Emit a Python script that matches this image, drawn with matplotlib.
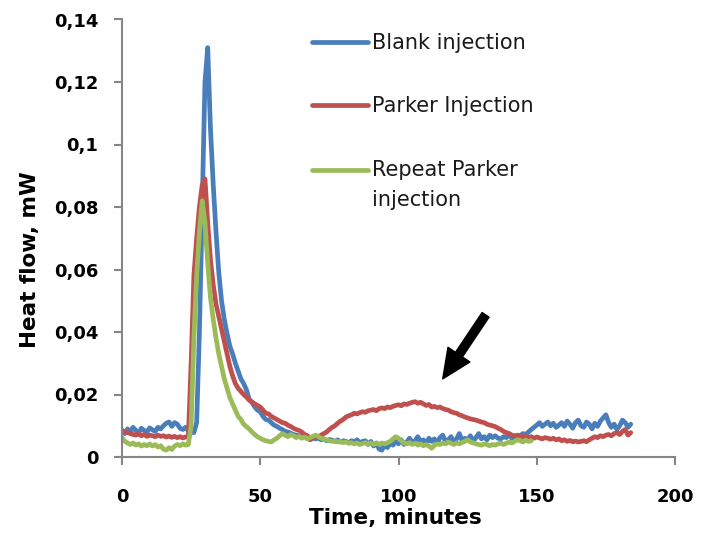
import numpy as np
import matplotlib
matplotlib.use("Agg")
import matplotlib.pyplot as plt
from matplotlib.legend_handler import HandlerLine2D

# ---------------- data (time in minutes, heat flow in mW) ----------------
time_blank = np.arange(0, 185)
blank = [
    .0085, .0075, .0090, .0080, .0095, .0085, .0078, .0092, .0085, .0080,
    .0093, .0087, .0082, .0095, .0090, .0100, .0108, .0112, .0098, .0110,
    .0105, .0092, .0088, .0095, .0083, .0080, .0078, .0110, .0400, .0800,
    .1200, .1310, .1050, .0870, .0720, .0590, .0500, .0440, .0395, .0355,
    .0330, .0300, .0275, .0250, .0235, .0215, .0185, .0175, .0160, .0150,
    .0145, .0130, .0120, .0118, .0110, .0102, .0098, .0092, .0088, .0082,
    .0080, .0076, .0072, .0070, .0068, .0066, .0064, .0068, .0060, .0062,
    .0058, .0060, .0055, .0058, .0052, .0056, .0054, .0050, .0055, .0048,
    .0052, .0050, .0046, .0052, .0048, .0055, .0045, .0050, .0052, .0040,
    .0050, .0035, .0045, .0025, .0022, .0040, .0030, .0045, .0038, .0050,
    .0042, .0055, .0040, .0048, .0060, .0045, .0052, .0065, .0048, .0055,
    .0042, .0060, .0050, .0058, .0045, .0062, .0070, .0050, .0055, .0065,
    .0048, .0058, .0075, .0052, .0060, .0055, .0068, .0050, .0062, .0075,
    .0058, .0065, .0055, .0070, .0062, .0068, .0060, .0058, .0065, .0062,
    .0072, .0060, .0065, .0070, .0068, .0075, .0072, .0080, .0088, .0095,
    .0102, .0110, .0098, .0105, .0112, .0100, .0108, .0095, .0102, .0110,
    .0098, .0115, .0105, .0092, .0110, .0118, .0100, .0095, .0112, .0105,
    .0090, .0108, .0098, .0115, .0125, .0135, .0110, .0095, .0105, .0088,
    .0100, .0118, .0110, .0095, .0105,
]

time_parker = np.arange(0, 185)
parker = [
    .0085, .0080, .0078, .0075, .0072, .0070, .0074, .0068, .0072, .0066,
    .0070, .0068, .0065, .0070, .0066, .0068, .0064, .0067, .0063, .0066,
    .0062, .0065, .0061, .0064, .0065, .0300, .0580, .0700, .0800, .0870,
    .0890, .0750, .0630, .0550, .0490, .0450, .0410, .0370, .0330, .0290,
    .0260, .0235, .0220, .0210, .0200, .0192, .0182, .0176, .0170, .0165,
    .0160, .0150, .0140, .0138, .0130, .0125, .0120, .0115, .0110, .0108,
    .0102, .0098, .0092, .0088, .0085, .0080, .0072, .0068, .0055, .0060,
    .0065, .0062, .0070, .0075, .0080, .0088, .0095, .0100, .0108, .0115,
    .0120, .0128, .0132, .0135, .0140, .0138, .0142, .0145, .0143, .0148,
    .0150, .0152, .0148, .0155, .0157, .0155, .0160, .0158, .0162, .0165,
    .0167, .0164, .0170, .0168, .0172, .0175, .0177, .0172, .0175, .0170,
    .0165, .0168, .0160, .0162, .0158, .0160, .0155, .0152, .0150, .0145,
    .0142, .0140, .0135, .0132, .0128, .0125, .0122, .0120, .0118, .0115,
    .0112, .0110, .0105, .0102, .0100, .0097, .0092, .0088, .0082, .0078,
    .0075, .0070, .0068, .0065, .0068, .0063, .0066, .0062, .0065, .0060,
    .0064, .0061, .0058, .0062, .0060, .0057, .0060, .0055, .0058, .0052,
    .0055, .0050, .0053, .0049, .0051, .0048, .0050, .0052, .0049, .0055,
    .0060, .0065, .0062, .0068, .0065, .0070, .0072, .0068, .0075, .0078,
    .0072, .0082, .0088, .0070, .0078,
]

time_repeat = np.arange(0, 149)
repeat = [
    .0062, .0050, .0045, .0040, .0045, .0038, .0042, .0035, .0040, .0036,
    .0042, .0035, .0040, .0032, .0036, .0025, .0022, .0030, .0024, .0035,
    .0040, .0036, .0042, .0038, .0040, .0100, .0380, .0580, .0720, .0820,
    .0750, .0620, .0510, .0440, .0380, .0330, .0290, .0250, .0220, .0190,
    .0170, .0150, .0130, .0120, .0105, .0097, .0090, .0080, .0072, .0065,
    .0060, .0055, .0052, .0050, .0048, .0055, .0060, .0068, .0075, .0070,
    .0065, .0072, .0068, .0062, .0066, .0060, .0064, .0058, .0062, .0066,
    .0070, .0065, .0060, .0058, .0055, .0052, .0050, .0052, .0048, .0050,
    .0046, .0048, .0044, .0046, .0042, .0045, .0040, .0043, .0046, .0042,
    .0045, .0040, .0044, .0041, .0045, .0042, .0046, .0050, .0058, .0065,
    .0060, .0052, .0045, .0042, .0046, .0040, .0044, .0038, .0042, .0036,
    .0040, .0035, .0028, .0038, .0042, .0040, .0045, .0042, .0048, .0044,
    .0040, .0045, .0042, .0046, .0050, .0055, .0048, .0045, .0042, .0040,
    .0038, .0042, .0040, .0036, .0040, .0038, .0042, .0045, .0040, .0044,
    .0048, .0045, .0050, .0055, .0052, .0048, .0054, .0050, .0052,
]

series_labels = ["Blank injection", "Parker Injection", "Repeat Parker\ninjection"]
series_colors = ["#4A7EBB", "#C0504D", "#9BBB59"]

x_ticks = [0, 50, 100, 150, 200]
x_tick_labels = ["0", "50", "100", "150", "200"]
y_ticks = [0, 0.02, 0.04, 0.06, 0.08, 0.10, 0.12, 0.14]
y_tick_labels = ["0", "0,02", "0,04", "0,06", "0,08", "0,1", "0,12", "0,14"]

arrow_tip = (116.0, 0.0250)
arrow_tail = (131.5, 0.0455)

# ---------------- figure ----------------
W, H = 707, 537
fig = plt.figure(figsize=(W / 100, H / 100), dpi=100)
ax = fig.add_axes([122 / W, 1 - 457 / H, (675 - 122) / W, (457 - 19.5) / H])

lines = []
for t, v, lab, col in zip([time_blank, time_parker, time_repeat],
                          [blank, parker, repeat], series_labels, series_colors):
    ln, = ax.plot(t, v, color=col, lw=3.4, label=lab, solid_joinstyle="round",
                  solid_capstyle="round")
    lines.append(ln)

ax.set_xlim(0, 200)
ax.set_ylim(0, 0.14)
ax.set_xticks(x_ticks)
ax.set_xticklabels(x_tick_labels)
ax.set_yticks(y_ticks)
ax.set_yticklabels(y_tick_labels)

spine_col = "#868686"
for s in ["top", "right"]:
    ax.spines[s].set_visible(False)
for s in ["left", "bottom"]:
    ax.spines[s].set_color(spine_col)
    ax.spines[s].set_linewidth(1.5)
ax.tick_params(axis="both", direction="out", length=6, width=1.5, color=spine_col,
               labelsize=13, labelcolor="black")
ax.tick_params(axis="y", pad=11)
ax.tick_params(axis="x", pad=16)
for lab in ax.get_xticklabels() + ax.get_yticklabels():
    lab.set_fontweight("bold")

ax.set_xlabel("Time, minutes", fontsize=15.5, fontweight="bold")
ax.set_ylabel("Heat flow, mW", fontsize=15.5, fontweight="bold")
ax.xaxis.set_label_coords(0.495, -0.1155)
ax.yaxis.set_label_coords(-0.148, 0.45)


class UpHandler(HandlerLine2D):
    def __init__(self, shift, **kw):
        super().__init__(**kw)
        self.shift = shift

    def create_artists(self, legend, orig_handle, xdescent, ydescent, width,
                       height, fontsize, trans):
        arts = super().create_artists(legend, orig_handle, xdescent, ydescent,
                                      width, height, fontsize, trans)
        for a in arts:
            a.set_ydata(np.asarray(a.get_ydata()) + self.shift)
        return arts


leg = ax.legend(handles=lines, loc="upper left",
                bbox_to_anchor=(312 / W, 1 - 33 / H), bbox_transform=fig.transFigure,
                frameon=False, fontsize=15, handlelength=2.7, handletextpad=0.2,
                labelspacing=2.08, borderpad=0, borderaxespad=0,
                handler_map={lines[2]: UpHandler(11.2)})
for txt in leg.get_texts():
    txt.set_color("#1a1a1a")
leg.get_texts()[2].set_linespacing(1.65)

ax.annotate("", xy=arrow_tip, xytext=arrow_tail,
            arrowprops=dict(arrowstyle="simple,head_width=0.95,head_length=1.05,tail_width=0.3",
                            color="black", mutation_scale=20, shrinkA=0, shrinkB=0))

fig.savefig("out.png", dpi=100)
